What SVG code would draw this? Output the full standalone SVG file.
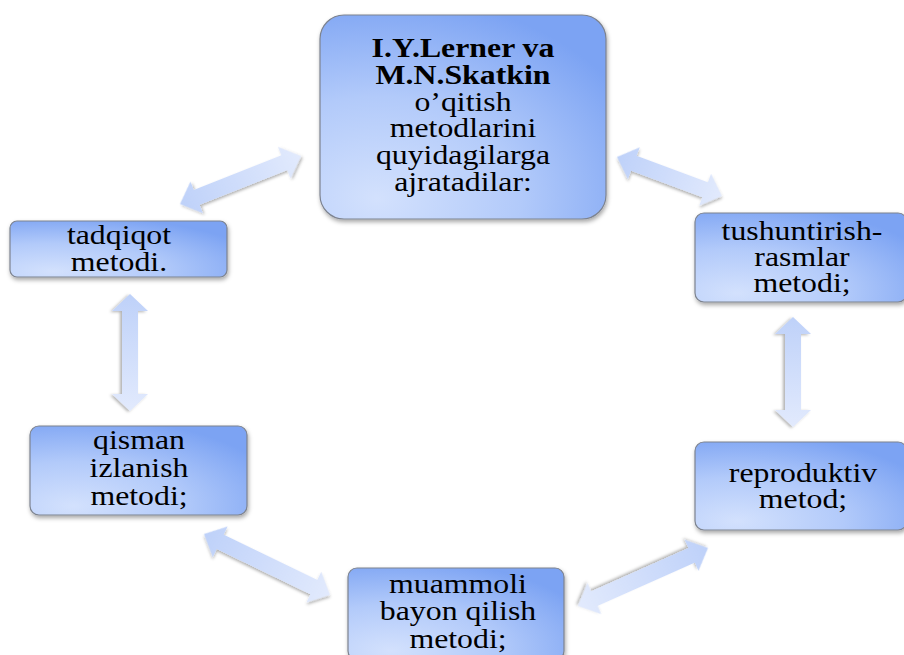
<svg xmlns="http://www.w3.org/2000/svg" width="904" height="655" viewBox="0 0 904 655">
<defs>
<radialGradient id="boxg" cx="0.2" cy="0.9" r="1.0" fx="0.2" fy="0.9">
<stop offset="0" stop-color="#d3e1fd"/>
<stop offset="0.5" stop-color="#b2cafa"/>
<stop offset="1" stop-color="#7ca3f3"/>
</radialGradient>
<linearGradient id="arrg" x1="0" y1="0" x2="1" y2="0">
<stop offset="0" stop-color="#bed1f9"/>
<stop offset="1" stop-color="#e2eafd"/>
</linearGradient>
<filter id="sh" x="-10%" y="-10%" width="130%" height="140%">
<feDropShadow dx="1" dy="2.5" stdDeviation="2" flood-color="#000" flood-opacity="0.35"/>
</filter>
<filter id="ash" x="-10%" y="-30%" width="130%" height="160%">
<feDropShadow dx="1" dy="2" stdDeviation="1.8" flood-color="#000" flood-opacity="0.3"/>
</filter>
</defs>
<style>
.box{fill:url(#boxg);stroke:#7d838f;stroke-width:1.2;filter:url(#sh)}
.t{font-size:26.5px;fill:#000;text-anchor:middle}
.b{font-weight:bold}
.arr{fill:url(#arrg);filter:url(#ash)}
</style>
<rect width="904" height="655" fill="#fff"/>
<g id="connectors">
<path class="arr" transform="translate(180,204) rotate(-21.6)" d="M0,0 L18,-17 L18,-8 L112.2,-8 L112.2,-17 L130.2,0 L112.2,17 L112.2,8 L18,8 L18,17 Z"/>
<path class="arr" transform="translate(617,157) rotate(20.4)" d="M0,0 L18,-17 L18,-8 L94,-8 L94,-17 L112,0 L94,17 L94,8 L18,8 L18,17 Z"/>
<path class="arr" transform="translate(793,317) rotate(90)" d="M0,0 L17,-18 L17,-8 L93,-8 L93,-18 L110,0 L93,18 L93,8 L17,8 L17,18 Z"/>
<path class="arr" transform="translate(130,294) rotate(90)" d="M0,0 L17,-18 L17,-8 L100,-8 L100,-18 L117,0 L100,18 L100,8 L17,8 L17,18 Z"/>
<path class="arr" transform="translate(204,534) rotate(25.8)" d="M0,0 L18,-17 L18,-8 L122,-8 L122,-17 L140,0 L122,17 L122,8 L18,8 L18,17 Z"/>
<path class="arr" transform="translate(708,548) rotate(156)" d="M0,0 L18,-17 L18,-8 L124.4,-8 L124.4,-17 L142.4,0 L124.4,17 L124.4,8 L18,8 L18,17 Z"/>
</g>
<g id="center" font-family="Liberation Serif, Times New Roman, serif">
<rect class="box" x="320" y="15" width="286" height="204" rx="24"/>
<text class="t b" transform="translate(463,57) scale(1.2,1)">I.Y.Lerner va</text>
<text class="t b" transform="translate(463,83.5) scale(1.2,1)">M.N.Skatkin</text>
<text class="t" transform="translate(463,110.5) scale(1.2,1)">o’qitish</text>
<text class="t" transform="translate(463,137) scale(1.2,1)">metodlarini</text>
<text class="t" transform="translate(463,164) scale(1.2,1)">quyidagilarga</text>
<text class="t" transform="translate(463,191) scale(1.2,1)">ajratadilar:</text>
</g>
<g id="tadqiqot" font-family="Liberation Serif, Times New Roman, serif">
<rect class="box" x="10" y="221" width="217" height="56" rx="7"/>
<text class="t" transform="translate(119,244) scale(1.2,1)">tadqiqot</text>
<text class="t" transform="translate(119,271) scale(1.2,1)">metodi.</text>
</g>
<g id="tushuntirish" font-family="Liberation Serif, Times New Roman, serif">
<rect class="box" x="695" y="213" width="212" height="89" rx="9"/>
<text class="t" transform="translate(802,240) scale(1.2,1)">tushuntirish-</text>
<text class="t" transform="translate(802,266) scale(1.2,1)">rasmlar</text>
<text class="t" transform="translate(802,292) scale(1.2,1)">metodi;</text>
</g>
<g id="reproduktiv" font-family="Liberation Serif, Times New Roman, serif">
<rect class="box" x="695" y="442" width="212" height="88" rx="9"/>
<text class="t" transform="translate(803,482) scale(1.2,1)">reproduktiv</text>
<text class="t" transform="translate(803,508) scale(1.2,1)">metod;</text>
</g>
<g id="qisman" font-family="Liberation Serif, Times New Roman, serif">
<rect class="box" x="30" y="426" width="217" height="89" rx="9"/>
<text class="t" transform="translate(139,449) scale(1.2,1)">qisman</text>
<text class="t" transform="translate(139,477) scale(1.2,1)">izlanish</text>
<text class="t" transform="translate(139,505) scale(1.2,1)">metodi;</text>
</g>
<g id="muammoli" font-family="Liberation Serif, Times New Roman, serif">
<rect class="box" x="348" y="568" width="216" height="92" rx="9"/>
<text class="t" transform="translate(458,593) scale(1.2,1)">muammoli</text>
<text class="t" transform="translate(458,620) scale(1.2,1)">bayon qilish</text>
<text class="t" transform="translate(458,648) scale(1.2,1)">metodi;</text>
</g>
</svg>
